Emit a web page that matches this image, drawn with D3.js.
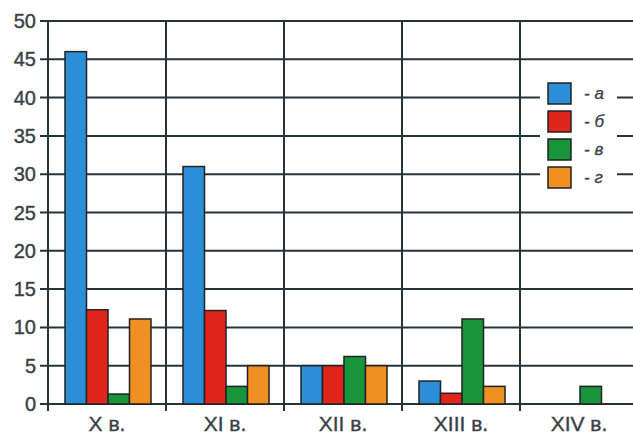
<!DOCTYPE html>
<html>
<head>
<meta charset="utf-8">
<script src="https://cdn.jsdelivr.net/npm/d3@7"></script>
<style>
body { margin: 0; background: #fff; }
text { font-family: "Liberation Sans", Arial, sans-serif; }
</style>
</head>
<body>
<div id="chart"></div>
<script>
var categories = ["X в.", "XI в.", "XII в.", "XIII в.", "XIV в."];
var seriesKeys = ["a", "b", "v", "g"];
var seriesLabels = ["- а", "- б", "- в", "- г"];
var seriesColors = ["#2b8fd8", "#e1251c", "#18953a", "#f08f22"];
var valuesA = [46, 31, 5, 3, 0];
var valuesB = [12.3, 12.2, 5, 1.4, 0];
var valuesV = [1.3, 2.3, 6.2, 11.1, 2.3];
var valuesG = [11.1, 5, 5, 2.3, 0];
var yTicks = [0, 5, 10, 15, 20, 25, 30, 35, 40, 45, 50];

var series = [valuesA, valuesB, valuesV, valuesG];

var width = 633;
var height = 435;
var plotLeft = 48;
var plotTop = 21;
var plotBottom = 404;
var catW = 118;
var textColor = "#3b4246";

var svg = d3.select("#chart")
    .append("svg")
        .attr("width", width)
        .attr("height", height);

var xScale = d3.scaleBand()
    .domain(categories)
    .range([plotLeft, plotLeft + catW * categories.length])
    .padding(0);

var xSub = d3.scaleBand()
    .domain(seriesKeys)
    .range([17, 103])
    .padding(0);

var yScale = d3.scaleLinear()
    .domain([0, 50])
    .range([plotBottom, plotTop]);

var lineColor = "#24343a";

// horizontal grid
svg.append("g")
    .selectAll("line")
    .data(yTicks)
    .enter().append("line")
        .attr("x1", plotLeft - 8)
        .attr("x2", width)
        .attr("y1", function (d) { return yScale(d); })
        .attr("y2", function (d) { return yScale(d); })
        .attr("stroke", lineColor)
        .attr("stroke-width", 2);

// vertical grid at category boundaries
svg.append("g")
    .selectAll("line")
    .data(categories)
    .enter().append("line")
        .attr("x1", function (d) { return xScale(d); })
        .attr("x2", function (d) { return xScale(d); })
        .attr("y1", plotTop)
        .attr("y2", plotBottom + 7)
        .attr("stroke", lineColor)
        .attr("stroke-width", 2);

// y labels
svg.append("g")
    .selectAll("text")
    .data(yTicks)
    .enter().append("text")
        .attr("x", 36)
        .attr("y", function (d) { return yScale(d) + 7; })
        .attr("text-anchor", "end")
        .attr("font-size", 20)
        .attr("fill", textColor)
        .attr("stroke", textColor)
        .attr("stroke-width", 0.4)
        .text(function (d) { return d; });

// x labels
svg.append("g")
    .selectAll("text")
    .data(categories)
    .enter().append("text")
        .attr("x", function (d) { return xScale(d) + catW / 2; })
        .attr("y", 431)
        .attr("text-anchor", "middle")
        .attr("font-size", 21)
        .attr("fill", textColor)
        .attr("stroke", textColor)
        .attr("stroke-width", 0.4)
        .text(function (d) { return d; });

// bars
series.forEach(function (vals, si) {
    var pts = vals.map(function (v, i) {
        return { cat: categories[i], value: v };
    }).filter(function (p) { return p.value > 0; });

    svg.append("g")
        .selectAll("rect")
        .data(pts)
        .enter().append("rect")
            .attr("x", function (d) { return xScale(d.cat) + xSub(seriesKeys[si]); })
            .attr("y", function (d) { return yScale(d.value); })
            .attr("width", xSub.bandwidth())
            .attr("height", function (d) { return yScale(0) - yScale(d.value); })
            .attr("fill", seriesColors[si])
            .attr("stroke", "#222")
            .attr("stroke-width", 1.5);
});

// legend
var legend = svg.append("g");

legend.append("rect")
    .attr("x", 540)
    .attr("y", 74)
    .attr("width", 77)
    .attr("height", 122)
    .attr("fill", "#fff");

legend.selectAll("rect.key")
    .data(seriesLabels)
    .enter().append("rect")
        .attr("class", "key")
        .attr("x", 548)
        .attr("y", function (d, i) { return 83 + i * 28; })
        .attr("width", 23)
        .attr("height", 21)
        .attr("fill", function (d, i) { return seriesColors[i]; })
        .attr("stroke", "#222")
        .attr("stroke-width", 1.5);

legend.selectAll("text")
    .data(seriesLabels)
    .enter().append("text")
        .attr("x", 584)
        .attr("y", function (d, i) { return 99 + i * 28; })
        .attr("font-size", 17)
        .attr("font-style", "italic")
        .attr("fill", textColor)
        .attr("stroke", textColor)
        .attr("stroke-width", 0.3)
        .text(function (d) { return d; });
</script>
</body>
</html>
